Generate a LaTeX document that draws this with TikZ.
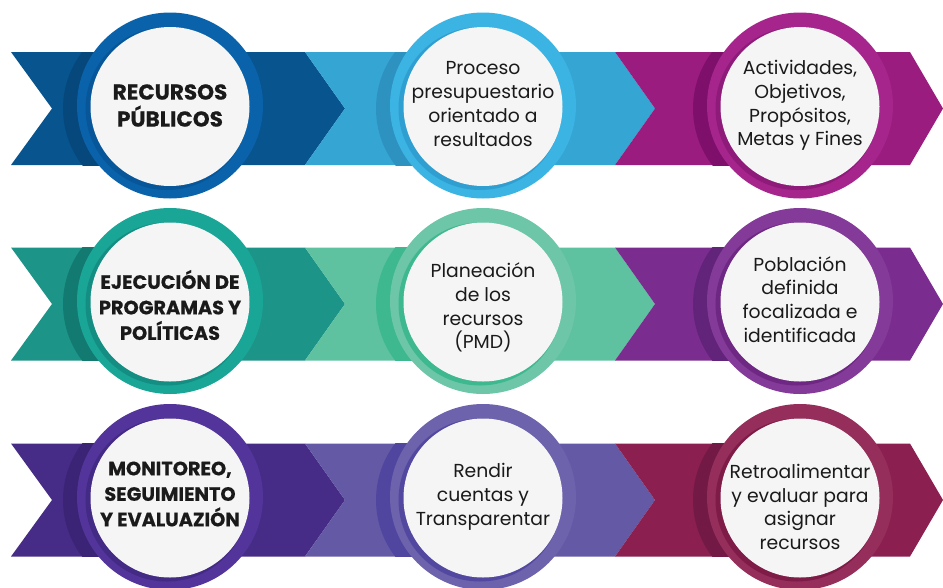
\documentclass[tikz,border=0pt]{standalone}
\usepackage{fontspec}
\setmainfont{Poppins}
\newfontfamily\heavyfont{Poppins}[FakeBold=0.6]
\definecolor{r1aband}{HTML}{07548F}\definecolor{r1aring}{HTML}{0A63AA}\definecolor{r1ain}{HTML}{07569A}\definecolor{r1ash}{HTML}{06487C}
\definecolor{r1bband}{HTML}{35A5D3}\definecolor{r1bring}{HTML}{3BB3E3}\definecolor{r1bin}{HTML}{2F9ED0}\definecolor{r1bsh}{HTML}{2E92C0}
\definecolor{r1cband}{HTML}{9A1C7E}\definecolor{r1cring}{HTML}{A6258D}\definecolor{r1cin}{HTML}{8E1A7A}\definecolor{r1csh}{HTML}{7E106B}
\definecolor{r2aband}{HTML}{1D9488}\definecolor{r2aring}{HTML}{1AA697}\definecolor{r2ain}{HTML}{148E82}\definecolor{r2ash}{HTML}{127A70}
\definecolor{r2bband}{HTML}{5EC2A0}\definecolor{r2bring}{HTML}{6DC6A8}\definecolor{r2bin}{HTML}{3DB88F}\definecolor{r2bsh}{HTML}{3DB88F}
\definecolor{r2cband}{HTML}{7B2C8F}\definecolor{r2cring}{HTML}{843A98}\definecolor{r2cin}{HTML}{6E2883}\definecolor{r2csh}{HTML}{62237A}
\definecolor{r3aband}{HTML}{462C86}\definecolor{r3aring}{HTML}{52349A}\definecolor{r3ain}{HTML}{432A85}\definecolor{r3ash}{HTML}{3B2475}
\definecolor{r3bband}{HTML}{6459A5}\definecolor{r3bring}{HTML}{6D62AC}\definecolor{r3bin}{HTML}{5248A0}\definecolor{r3bsh}{HTML}{5046A0}
\definecolor{r3cband}{HTML}{8B1F4F}\definecolor{r3cring}{HTML}{952E5A}\definecolor{r3cin}{HTML}{7E1B47}\definecolor{r3csh}{HTML}{721A45}
\definecolor{facecol}{HTML}{F5F5F5}
\definecolor{txtcol}{HTML}{1A1A1A}
% #1 row prefix, #2 band centre y
\newcommand\mkrow[2]{%
  \fill[#1aband] (11,#2-56.5) -- (305,#2-56.5) -- (345,#2) -- (305,#2+56.5) -- (11,#2+56.5) -- (52,#2) -- cycle;
  \fill[#1bband] (305,#2-56.5) -- (615,#2-56.5) -- (655,#2) -- (615,#2+56.5) -- (305,#2+56.5) -- (345,#2) -- cycle;
  \fill[#1cband] (615,#2-56.5) -- (910,#2-56.5) -- (943,#2) -- (910,#2+56.5) -- (615,#2+56.5) -- (655,#2) -- cycle;
}
% #1 name, #2 cx, #3 band centre y, #4 colour prefix, #5 style, #6 text
\newcommand\mkbadge[6]{%
  \begin{scope}
    \clip (#2-120,#3-56.5) rectangle (#2,#3+56.5);
    \fill[#4sh] (#2-14,#3) circle (93);
  \end{scope}
  \fill[#4ring] (#2,#3-3) circle (93);
  \fill[#4in] (#2-3,#3) circle (81.5);
  \fill[facecol] (#2,#3-2) circle (79.5);
  \node[#5] (#1) at (#2,#3-3) {#6};
}
\begin{document}
\begin{tikzpicture}[x=1pt,y=-1pt,
  plaintxt/.style={align=center,text=txtcol,inner sep=0pt,font=\fontsize{18.8}{23.8}\selectfont},
  boldtxt/.style={align=center,text=txtcol,inner sep=0pt,font=\heavyfont\bfseries\fontsize{19.3}{25.5}\selectfont},
  bigbold/.style={boldtxt,font=\heavyfont\bfseries\fontsize{21.5}{27}\selectfont}]
\useasboundingbox (0,0) rectangle (943,587);
\mkrow{r1}{108.5}
\mkrow{r2}{304}
\mkrow{r3}{500}
\mkbadge{a1}{170}{108.5}{r1a}{bigbold}{RECURSOS\\PÚBLICOS}
\mkbadge{b1}{483}{108.5}{r1b}{plaintxt,yshift=1.5pt}{Proceso\\presupuestario\\orientado a\\resultados}
\mkbadge{c1}{800}{108.5}{r1c}{plaintxt}{Actividades,\\Objetivos,\\Propósitos,\\Metas y Fines}
\mkbadge{a2}{170}{304}{r2a}{boldtxt,yshift=-4pt}{EJECUCIÓN DE\\PROGRAMAS Y\\POLÍTICAS}
\mkbadge{b2}{483}{304}{r2b}{plaintxt,yshift=-6.5pt}{Planeación\\de los\\recursos\\(PMD)}
\mkbadge{c2}{800}{304}{r2c}{plaintxt,yshift=1.5pt}{Población\\definida\\focalizada e\\identificada}
\mkbadge{a3}{170}{500}{r3a}{boldtxt,yshift=3pt}{MONITOREO,\\SEGUIMIENTO\\Y EVALUAZIÓN}
\mkbadge{b3}{483}{500}{r3b}{plaintxt}{Rendir\\cuentas y\\Transparentar}
\mkbadge{c3}{800}{500}{r3c}{plaintxt,yshift=-10pt}{Retroalimentar\\y evaluar para\\asignar\\recursos}
\end{tikzpicture}
\end{document}
